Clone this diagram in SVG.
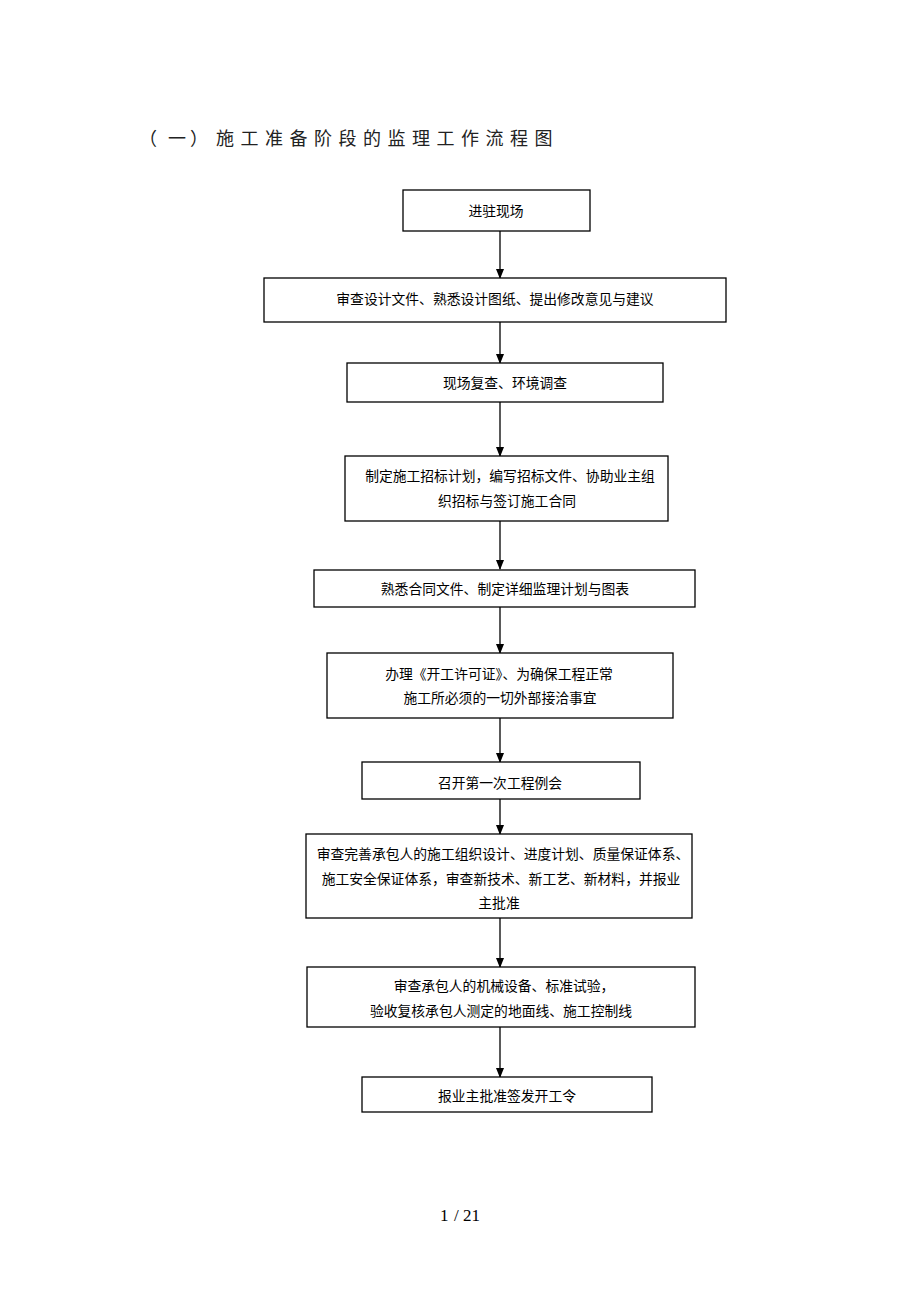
<svg xmlns="http://www.w3.org/2000/svg" width="920" height="1302" viewBox="0 0 920 1302">
<style>
.box{fill:#fff;stroke:#000;stroke-width:1.3}
.t{font-family:"Noto Sans CJK SC","Noto Sans",sans-serif;font-size:13.8px;fill:#000;text-anchor:middle;dominant-baseline:central}
.edge{stroke:#000;stroke-width:1.3;fill:none}
.title{font-family:"Noto Sans CJK SC","Noto Sans",sans-serif;font-size:18px;fill:#222;dominant-baseline:central}
</style>
<defs>
<marker id="ah" markerWidth="10" markerHeight="10" refX="9" refY="5" orient="auto" markerUnits="userSpaceOnUse">
<path d="M0,1 L10,5 L0,9 Z" fill="#000"/>
</marker>
</defs>
<rect width="920" height="1302" fill="#fff"/>
<text class="title" x="139" y="137">（</text>
<text class="title" x="168" y="137">一</text>
<text class="title" x="190" y="137">）</text>
<text class="title" x="216" y="137" letter-spacing="6.5">施工准备阶段的监理工作流程图</text>

<g id="edges">
<line class="edge" x1="500" y1="231" x2="500" y2="278" marker-end="url(#ah)"/>
<line class="edge" x1="500" y1="322" x2="500" y2="363" marker-end="url(#ah)"/>
<line class="edge" x1="500" y1="402" x2="500" y2="456" marker-end="url(#ah)"/>
<line class="edge" x1="500" y1="521" x2="500" y2="569" marker-end="url(#ah)"/>
<line class="edge" x1="500" y1="607" x2="500" y2="653" marker-end="url(#ah)"/>
<line class="edge" x1="500" y1="718" x2="500" y2="762" marker-end="url(#ah)"/>
<line class="edge" x1="500" y1="799" x2="500" y2="834" marker-end="url(#ah)"/>
<line class="edge" x1="500" y1="918" x2="500" y2="967" marker-end="url(#ah)"/>
<line class="edge" x1="500" y1="1027" x2="500" y2="1077" marker-end="url(#ah)"/>
</g>

<g id="n1"><rect class="box" x="403" y="190" width="187" height="41"/><text class="t" x="496" y="210">进驻现场</text></g>
<g id="n2"><rect class="box" x="264" y="278" width="462" height="44"/><text class="t" x="495" y="298">审查设计文件、熟悉设计图纸、提出修改意见与建议</text></g>
<g id="n3"><rect class="box" x="347" y="363" width="316" height="39"/><text class="t" x="505" y="382">现场复查、环境调查</text></g>
<g id="n4"><rect class="box" x="345" y="456" width="323" height="65"/><text class="t" x="510" y="475">制定施工招标计划，编写招标文件、协助业主组</text><text class="t" x="507" y="500">织招标与签订施工合同</text></g>
<g id="n5"><rect class="box" x="314" y="570" width="381" height="37"/><text class="t" x="505" y="588">熟悉合同文件、制定详细监理计划与图表</text></g>
<g id="n6"><rect class="box" x="327" y="653" width="346" height="65"/><text class="t" x="499" y="673">办理《开工许可证》、为确保工程正常</text><text class="t" x="500" y="697">施工所必须的一切外部接洽事宜</text></g>
<g id="n7"><rect class="box" x="362" y="762" width="278" height="37"/><text class="t" x="500" y="782">召开第一次工程例会</text></g>
<g id="n8"><rect class="box" x="306" y="834" width="386" height="84"/><text class="t" x="503" y="853">审查完善承包人的施工组织设计、进度计划、质量保证体系、</text><text class="t" x="501" y="878">施工安全保证体系，审查新技术、新工艺、新材料，并报业</text><text class="t" x="499" y="902">主批准</text></g>
<g id="n9"><rect class="box" x="307" y="967" width="388" height="60"/><text class="t" x="504" y="985">审查承包人的机械设备、标准试验，</text><text class="t" x="501" y="1010">验收复核承包人测定的地面线、施工控制线</text></g>
<g id="n10"><rect class="box" x="362" y="1077" width="290" height="35"/><text class="t" x="507" y="1095">报业主批准签发开工令</text></g>

<text x="440" y="1221" font-family="Liberation Serif,serif" font-size="17" fill="#000">1</text>
<text x="454" y="1221" font-family="Liberation Serif,serif" font-size="17" fill="#000">/ 21</text>
</svg>
